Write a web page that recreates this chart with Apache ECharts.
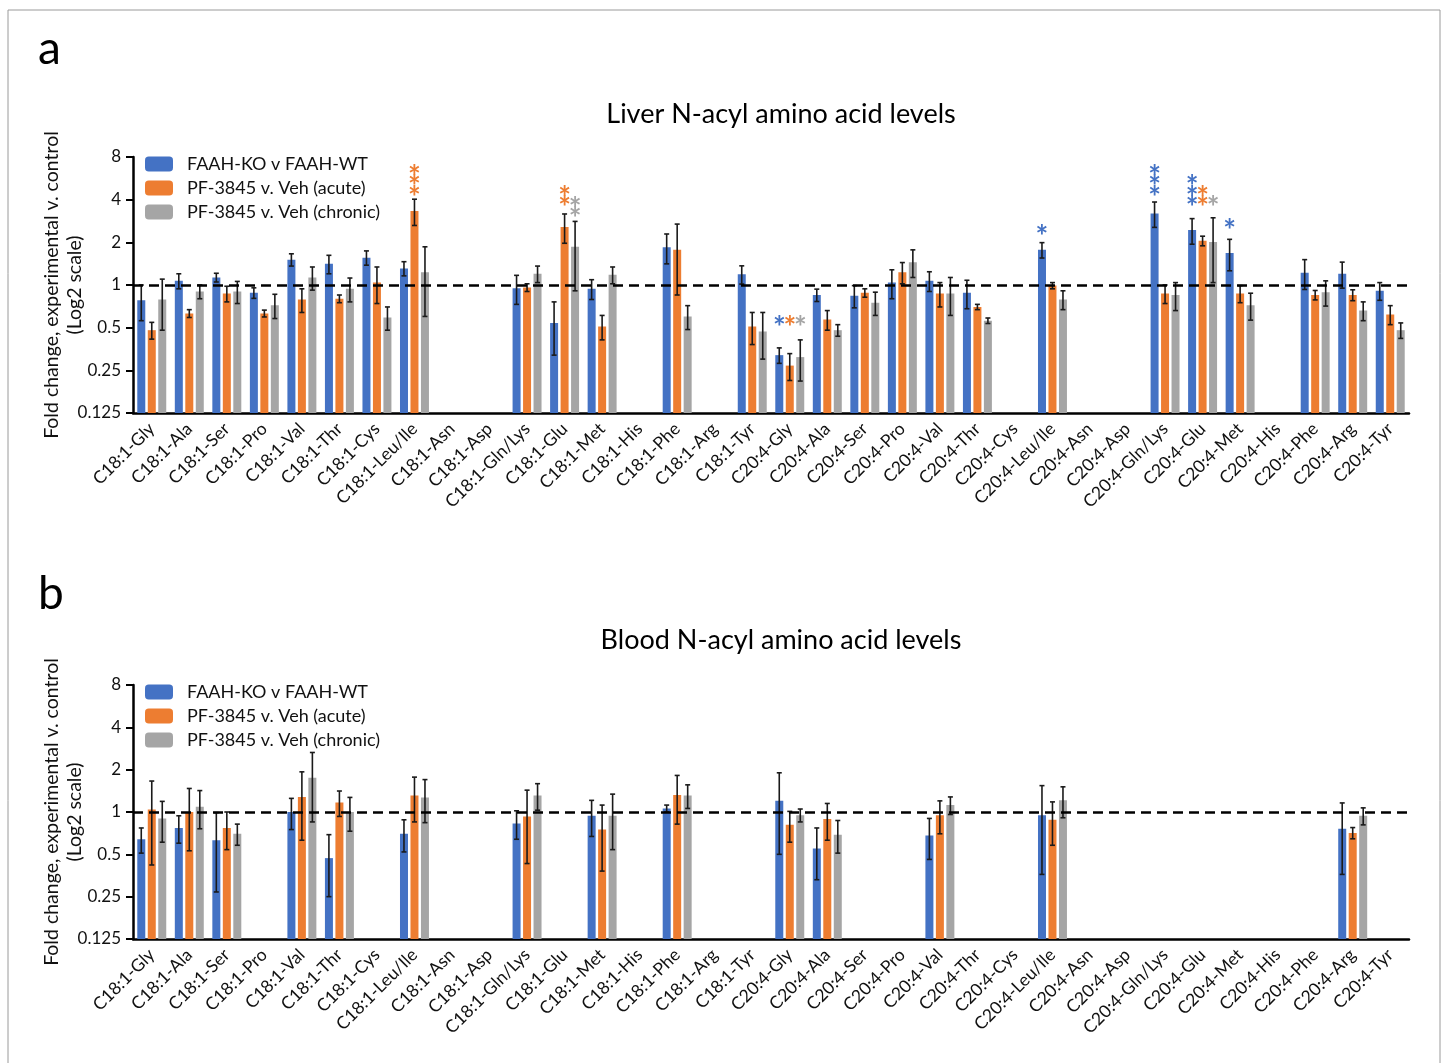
<!DOCTYPE html>
<html>
<head>
<meta charset="utf-8">
<title>N-acyl amino acid levels</title>
<script src="https://cdn.jsdelivr.net/npm/echarts@6/dist/echarts.min.js"></script>
<style>
  html, body { margin: 0; padding: 0; background: #fff; }
  #chart { width: 1444px; height: 1063px; }
</style>
</head>
<body>
<div id="chart"></div>
<script>
const categories = [
  'C18:1-Gly', 'C18:1-Ala', 'C18:1-Ser', 'C18:1-Pro', 'C18:1-Val', 'C18:1-Thr', 'C18:1-Cys',
  'C18:1-Leu/Ile', 'C18:1-Asn', 'C18:1-Asp', 'C18:1-Gln/Lys', 'C18:1-Glu', 'C18:1-Met',
  'C18:1-His', 'C18:1-Phe', 'C18:1-Arg', 'C18:1-Tyr',
  'C20:4-Gly', 'C20:4-Ala', 'C20:4-Ser', 'C20:4-Pro', 'C20:4-Val', 'C20:4-Thr', 'C20:4-Cys',
  'C20:4-Leu/Ile', 'C20:4-Asn', 'C20:4-Asp', 'C20:4-Gln/Lys', 'C20:4-Glu', 'C20:4-Met',
  'C20:4-His', 'C20:4-Phe', 'C20:4-Arg', 'C20:4-Tyr'
]
const seriesNames = ['FAAH-KO v FAAH-WT', 'PF-3845 v. Veh (acute)', 'PF-3845 v. Veh (chronic)']
const colors = ['#4472C4', '#ED7D31', '#A5A5A5']
const yTicks = [0.125, 0.25, 0.5, 1, 2, 4, 8]

// liver: mean fold change and SEM, '-' = not measured
const liverKO = [0.78, 1.07, 1.13, 0.88, 1.51, 1.41, 1.56, 1.31, '-', '-', 0.95, 0.54, 0.94, '-', 1.85, '-', 1.19,
  0.32, 0.85, 0.84, 1.04, 1.07, 0.88, '-', 1.77, '-', '-', 3.2, 2.44, 1.68, '-', 1.22, 1.20, 0.91]
const liverKOsem = [0.22, 0.13, 0.08, 0.075, 0.15, 0.21, 0.18, 0.15, '-', '-', 0.22, 0.22, 0.15, '-', 0.44, '-', 0.175,
  0.04, 0.085, 0.15, 0.24, 0.17, 0.2, '-', 0.22, '-', '-', 0.65, 0.5, 0.42, '-', 0.29, 0.25, 0.13]
const liverAcute = [0.48, 0.63, 0.87, 0.63, 0.79, 0.80, 1.04, 3.33, '-', '-', 0.96, 2.57, 0.51, '-', 1.77, '-', 0.51,
  0.27, 0.57, 0.88, 1.23, 0.87, 0.70, '-', 0.99, '-', '-', 0.87, 2.05, 0.87, '-', 0.85, 0.85, 0.62]
const liverAcuteSem = [0.065, 0.04, 0.11, 0.035, 0.15, 0.05, 0.30, 0.70, '-', '-', 0.06, 0.6, 0.1, '-', 0.92, '-', 0.13,
  0.058, 0.09, 0.06, 0.21, 0.17, 0.03, '-', 0.05, '-', '-', 0.13, 0.16, 0.12, '-', 0.065, 0.075, 0.095]
const liverChronic = [0.79, 0.90, 0.90, 0.72, 1.13, 0.94, 0.59, 1.23, '-', '-', 1.20, 1.86, 1.18, '-', 0.60, '-', 0.47,
  0.31, 0.48, 0.75, 1.45, 0.87, 0.56, '-', 0.79, '-', '-', 0.85, 2.01, 0.72, '-', 0.89, 0.66, 0.48]
const liverChronicSem = [0.31, 0.1, 0.16, 0.14, 0.21, 0.18, 0.11, 0.63, '-', '-', 0.16, 0.95, 0.16, '-', 0.115, '-', 0.17,
  0.1, 0.045, 0.14, 0.32, 0.26, 0.025, '-', 0.12, '-', '-', 0.19, 0.97, 0.155, '-', 0.18, 0.1, 0.06]

// blood
const bloodKO = [0.64, 0.77, 0.63, '-', 1.0, 0.47, '-', 0.70, '-', '-', 0.83, '-', 0.94, '-', 1.06, '-', '-',
  1.2, 0.55, '-', '-', 0.68, '-', '-', 0.95, '-', '-', '-', '-', '-', '-', '-', 0.76, '-']
const bloodKOsem = [0.13, 0.17, 0.36, '-', 0.25, 0.22, '-', 0.18, '-', '-', 0.19, '-', 0.27, '-', 0.06, '-', '-',
  0.7, 0.22, '-', '-', 0.22, '-', '-', 0.59, '-', '-', '-', '-', '-', '-', '-', 0.4, '-']
const bloodAcute = [1.04, 1.0, 0.77, '-', 1.28, 1.17, '-', 1.31, '-', '-', 0.93, '-', 0.75, '-', 1.32, '-', '-',
  0.81, 0.89, '-', '-', 0.95, '-', '-', 0.88, '-', '-', '-', '-', '-', '-', '-', 0.71, '-']
const bloodAcuteSem = [0.62, 0.47, 0.23, '-', 0.65, 0.24, '-', 0.46, '-', '-', 0.5, '-', 0.37, '-', 0.5, '-', '-',
  0.2, 0.26, '-', '-', 0.25, '-', '-', 0.3, '-', '-', '-', '-', '-', '-', '-', 0.065, '-']
const bloodChronic = [0.90, 1.09, 0.70, '-', 1.75, 1.0, '-', 1.27, '-', '-', 1.31, '-', 0.94, '-', 1.31, '-', '-',
  0.95, 0.69, '-', '-', 1.12, '-', '-', 1.21, '-', '-', '-', '-', '-', '-', '-', 0.94, '-']
const bloodChronicSem = [0.29, 0.33, 0.12, '-', 0.9, 0.27, '-', 0.43, '-', '-', 0.28, '-', 0.4, '-', 0.25, '-', '-',
  0.1, 0.18, '-', '-', 0.16, '-', '-', 0.3, '-', '-', '-', '-', '-', '-', '-', 0.13, '-']

// significance marks: [category index, series index, number of stars, fold value at lowest star]
const liverStars = [
  [7, 1, 3, 4.67],
  [11, 1, 2, 3.96], [11, 2, 2, 3.31],
  [17, 0, 1, 0.563], [17, 1, 1, 0.563], [17, 2, 1, 0.563],
  [24, 0, 1, 2.46],
  [27, 0, 3, 4.67],
  [28, 0, 3, 3.96], [28, 1, 2, 3.96], [28, 2, 1, 3.96],
  [29, 0, 1, 2.72]
]

const FONT = 'Lato'
const barStep = 10.5
const starSize = 30

const panels = [
  { means: [liverKO, liverAcute, liverChronic], sems: [liverKOsem, liverAcuteSem, liverChronicSem], top: 157, height: 256 },
  { means: [bloodKO, bloodAcute, bloodChronic], sems: [bloodKOsem, bloodAcuteSem, bloodChronicSem], top: 685, height: 254 }
]

const errorBarItem = (slot) => (params, api) => {
  const i = api.value(0)
  const x = api.coord([i, 1])[0] + (slot - 1) * barStep
  const yLo = api.coord([i, api.value(1)])[1]
  const yHi = api.coord([i, api.value(2)])[1]
  const style = { stroke: '#1a1a1a', lineWidth: 1.6 }
  return {
    type: 'group',
    children: [
      { type: 'line', shape: { x1: x, y1: yLo, x2: x, y2: yHi }, style },
      { type: 'line', shape: { x1: x - 2.5, y1: yHi, x2: x + 2.5, y2: yHi }, style },
      { type: 'line', shape: { x1: x - 2.5, y1: yLo, x2: x + 2.5, y2: yLo }, style }
    ]
  }
}

// the asterisk glyph sits high in the em box, so push it down a bit
const starItem = (params, api) => {
  const s = api.value(1)
  const p = api.coord([api.value(0), api.value(3)])
  const x = p[0] + (s - 1) * barStep
  const children = []
  for (let k = 0; k < api.value(2); k++) {
    children.push({
      type: 'text',
      x: x,
      y: p[1] - k * 10.5 + starSize * 0.27,
      style: { text: '*', fill: colors[s], font: 'bold ' + starSize + 'px ' + FONT, align: 'center', verticalAlign: 'middle' }
    })
  }
  return { type: 'group', children }
}

const grids = []
const xAxes = []
const yAxes = []
const legends = []
const series = []

panels.forEach((panel, p) => {
  grids.push({ left: 133, right: 35, top: panel.top, height: panel.height })
  legends.push({
    data: seriesNames,
    orient: 'vertical',
    left: 145,
    top: panel.top - 2,
    itemWidth: 28,
    itemHeight: 15,
    itemGap: 6,
    padding: 0,
    textStyle: { fontFamily: FONT, fontSize: 18, lineHeight: 18, color: '#111', padding: [0, 0, 0, 9] }
  })
  xAxes.push({
    type: 'category',
    gridIndex: p,
    data: categories,
    axisLine: { lineStyle: { color: '#000', width: 2.5 } },
    axisTick: { alignWithLabel: true, length: 8, lineStyle: { color: '#000', width: 2.5 } },
    axisLabel: { rotate: 45, interval: 0, margin: 13, fontFamily: FONT, fontSize: 17.5, color: '#111' }
  })
  yAxes.push({
    type: 'log',
    logBase: 2,
    gridIndex: p,
    min: 0.125,
    max: 8,
    startValue: 0.125,
    splitNumber: 6,
    name: 'Fold change, experimental v. control\n(Log2 scale)',
    nameLocation: 'middle',
    nameRotate: 90,
    nameGap: 47,
    nameMoveOverlap: false,
    nameTextStyle: { fontFamily: FONT, fontSize: 19.5, lineHeight: 23, color: '#111' },
    axisLine: { show: true, lineStyle: { color: '#000', width: 2.5 } },
    axisTick: { show: true, length: 7, lineStyle: { color: '#000', width: 2 }, customValues: yTicks },
    axisLabel: {
      margin: 12, fontFamily: FONT, fontSize: 17, color: '#111', customValues: yTicks,
      formatter: (v) => String(+(+v).toPrecision(3))
    },
    splitLine: { show: false }
  })

  seriesNames.forEach((name, s) => {
    series.push({
      name,
      type: 'bar',
      xAxisIndex: p,
      yAxisIndex: p,
      data: panel.means[s],
      barWidth: 8,
      barGap: '31%',
      itemStyle: { color: colors[s] },
      markLine: s === 0 ? {
        silent: true,
        symbol: ['none', 'none'],
        label: { show: false },
        lineStyle: { color: '#000', width: 2.5, type: [10, 6] },
        data: [{ yAxis: 1 }]
      } : undefined
    })
    const bars = []
    panel.means[s].forEach((m, i) => {
      if (m === '-') return
      const e = panel.sems[s][i]
      bars.push([i, m - e, m + e])
    })
    series.push({
      name,
      type: 'custom',
      xAxisIndex: p,
      yAxisIndex: p,
      z: 4,
      silent: true,
      clip: false,
      renderItem: errorBarItem(s),
      encode: { x: 0, y: [1, 2] },
      data: bars
    })
  })
})

series.push({
  type: 'custom',
  xAxisIndex: 0,
  yAxisIndex: 0,
  z: 5,
  silent: true,
  clip: false,
  renderItem: starItem,
  encode: { x: 0, y: 3 },
  data: liverStars
})

const chart = echarts.init(document.getElementById('chart'))
chart.setOption({
  backgroundColor: '#fff',
  animation: false,
  color: colors,
  grid: grids,
  xAxis: xAxes,
  yAxis: yAxes,
  legend: legends,
  series,
  graphic: [
    { type: 'rect', shape: { x: 8, y: 10, width: 1432, height: 1060 }, style: { fill: 'none', stroke: '#9a9a9a', lineWidth: 1 } },
    { type: 'text', x: 38, y: 26, style: { text: 'a', font: '46px ' + FONT, fill: '#000' } },
    { type: 'text', x: 38, y: 571, style: { text: 'b', font: '46px ' + FONT, fill: '#000' } },
    { type: 'text', x: 781, y: 114, style: { text: 'Liver N-acyl amino acid levels', font: '27px ' + FONT, fill: '#000', align: 'center', verticalAlign: 'middle' } },
    { type: 'text', x: 781, y: 640, style: { text: 'Blood N-acyl amino acid levels', font: '27px ' + FONT, fill: '#000', align: 'center', verticalAlign: 'middle' } }
  ]
})
</script>
</body>
</html>
